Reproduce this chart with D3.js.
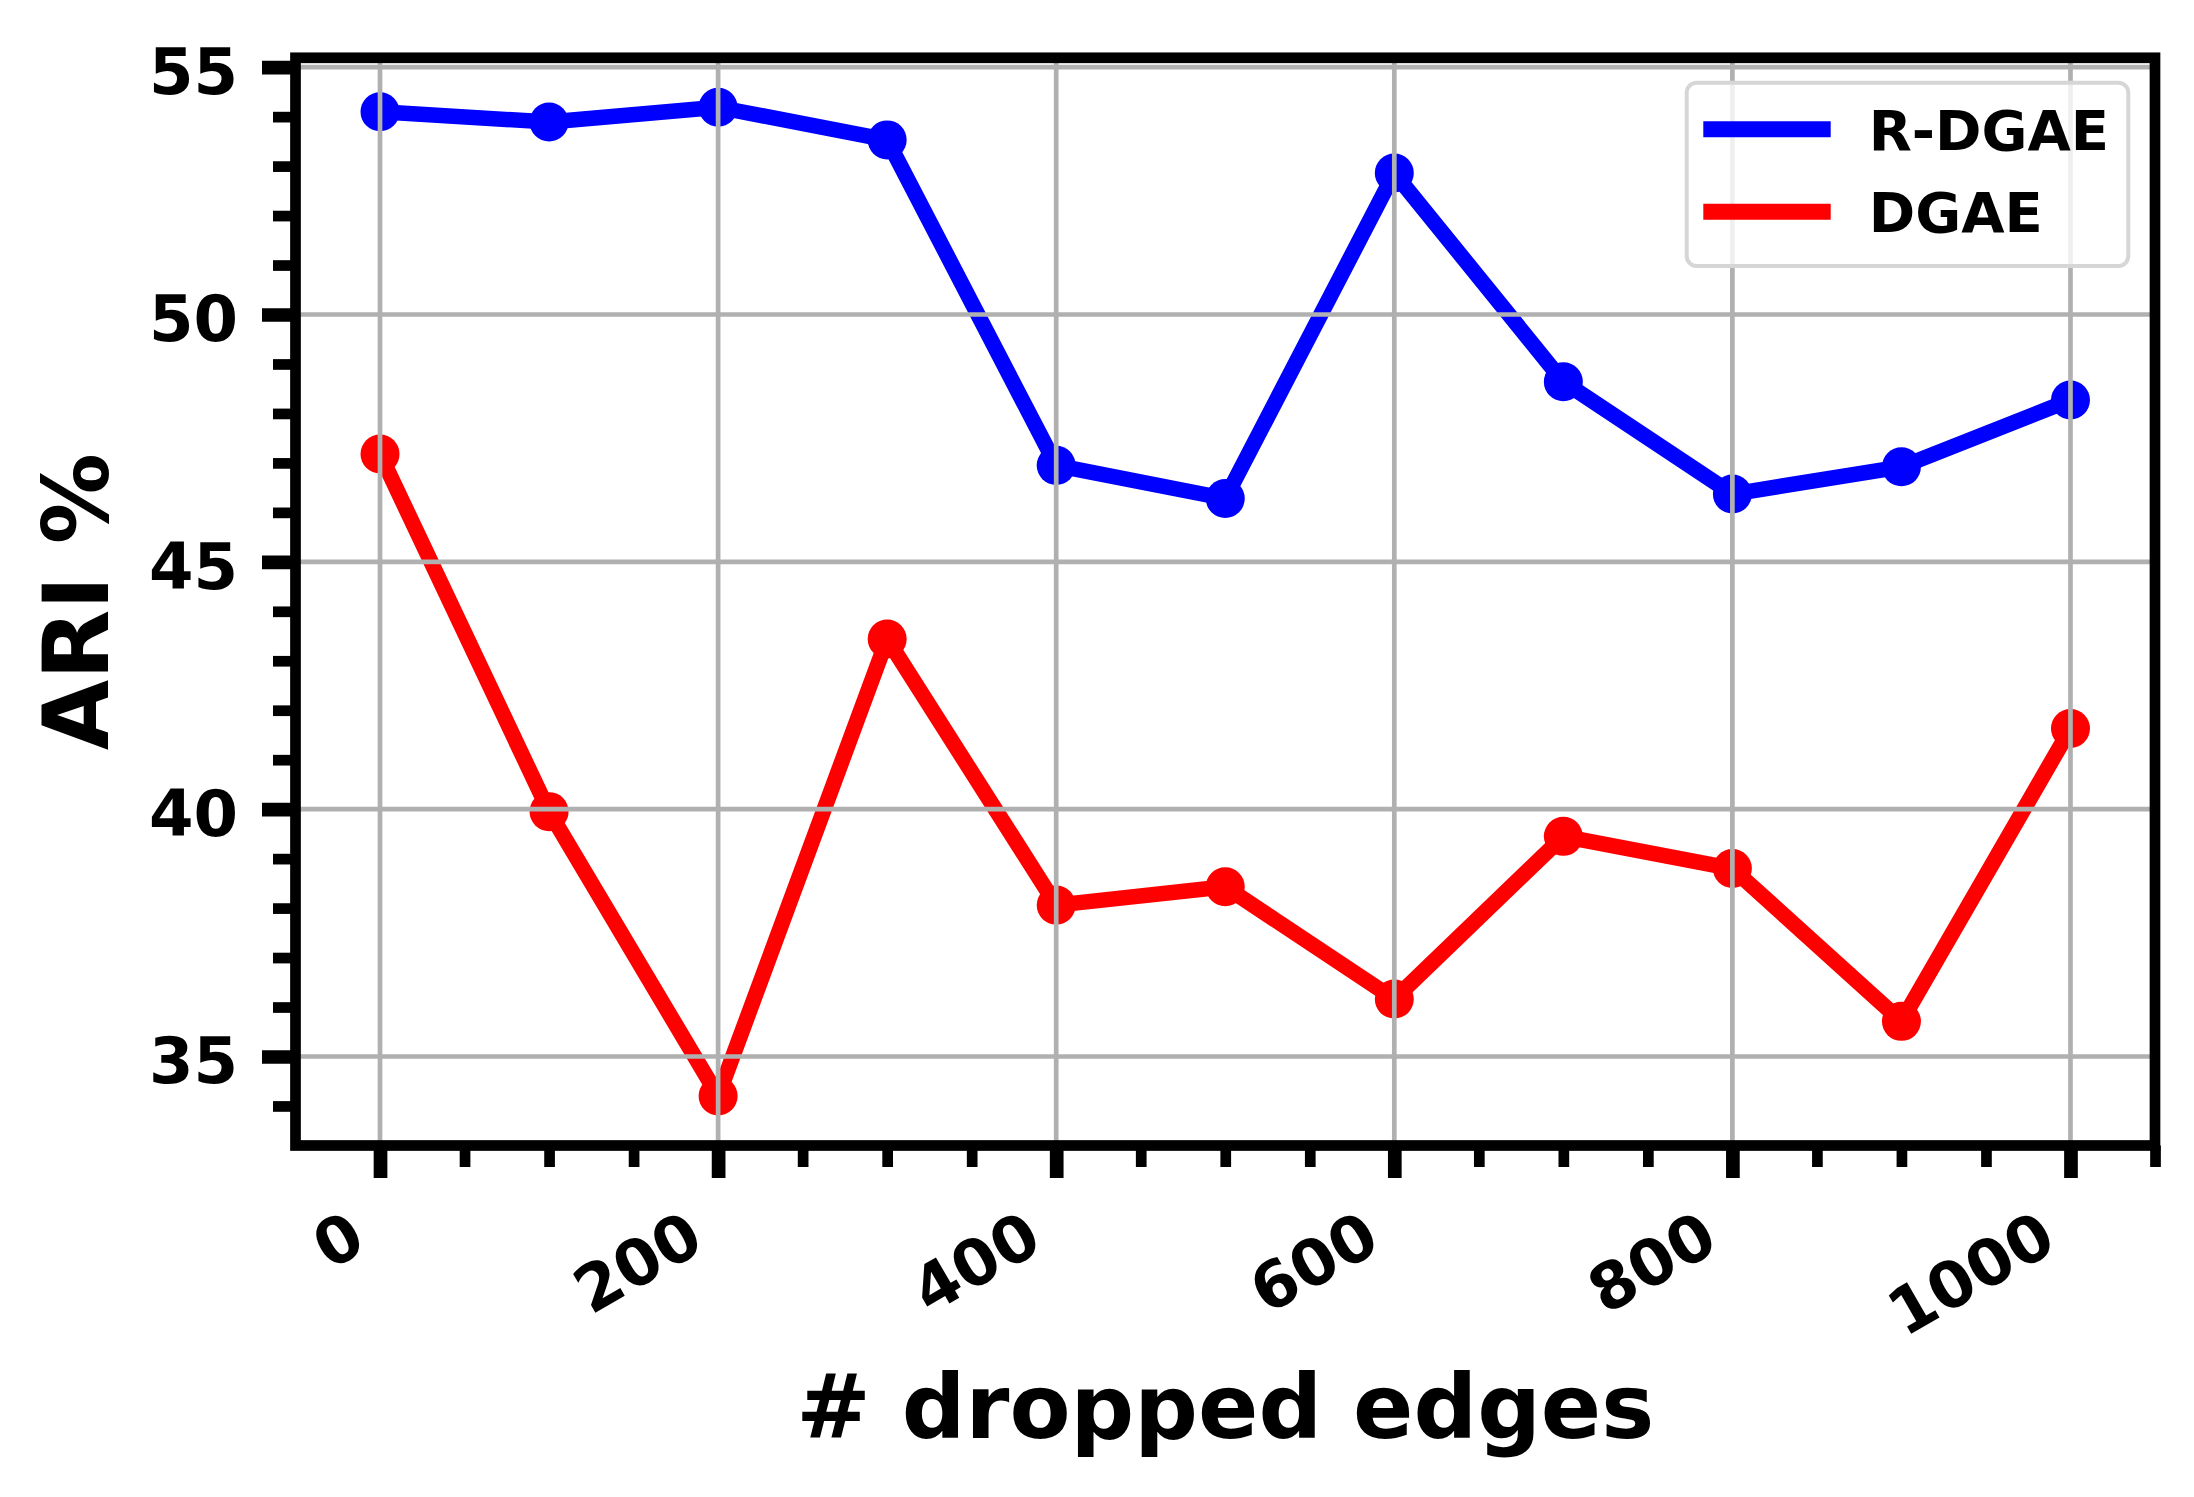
<!DOCTYPE html>
<html>
<head>
<meta charset="utf-8">
<script src="https://cdn.jsdelivr.net/npm/d3@7"></script>
<style>
  body { margin: 0; background: #fff; }
  text { font-family: "DejaVu Sans", sans-serif; font-weight: bold; }
</style>
</head>
<body>
<script>
// data
const edges  = [0, 100, 200, 300, 400, 500, 600, 700, 800, 900, 1000];
const rdgae  = [54.10, 53.89, 54.19, 53.53, 46.95, 46.28, 52.86, 48.64, 46.37, 46.92, 48.27];
const dgae   = [47.18, 39.95, 34.20, 43.44, 38.06, 38.43, 36.16, 39.45, 38.80, 35.71, 41.63];
const seriesNames  = ["R-DGAE", "DGAE"];
const seriesColors = ["#0000ff", "#ff0000"];
const xTicks = [0, 200, 400, 600, 800, 1000];
const yTicks = [35, 40, 45, 50, 55];
const xLabel = "# dropped edges";
const yLabel = "ARI %";

let size = {width: 2194, height: 1497};
let box = {left: 295.5, right: 2155, top: 57.8, bottom: 1145.5};

let svg = d3.select("body").append("svg")
    .attr("width", size.width).attr("height", size.height);

// matplotlib style 5% margins
function padded(ext) {
    let m = (ext[1] - ext[0]) * 0.05;
    return [ext[0] - m, ext[1] + m];
}
let x = d3.scaleLinear().domain(padded(d3.extent(edges))).range([box.left, box.right]);
let y = d3.scaleLinear().domain(padded(d3.extent(rdgae.concat(dgae)))).range([box.bottom, box.top]);

let xMinor = d3.range(50, 1051, 50).filter(v => !xTicks.includes(v));
let yMinor = d3.range(34, 56, 1).filter(v => !yTicks.includes(v) && v < y.domain()[1]);

// series
let series = [rdgae, dgae];
let line = d3.line().x((d, i) => x(edges[i])).y(d => y(d));
let plotG = svg.append("g");
series.forEach((vals, k) => {
    plotG.append("path")
        .datum(vals)
        .attr("d", line)
        .attr("fill", "none")
        .attr("stroke", seriesColors[k])
        .attr("stroke-width", 15.5)
        .attr("stroke-linejoin", "round");
    plotG.selectAll(null).data(vals).enter().append("circle")
        .attr("cx", (d, i) => x(edges[i]))
        .attr("cy", d => y(d))
        .attr("r", 19.5)
        .attr("fill", seriesColors[k]);
});

// grid sits above the lines
let grid = svg.append("g").attr("stroke", "#b0b0b0").attr("stroke-width", 4.7);
grid.selectAll(null).data(xTicks).enter().append("line")
    .attr("x1", d => x(d)).attr("x2", d => x(d))
    .attr("y1", box.top).attr("y2", box.bottom);
grid.selectAll(null).data(yTicks).enter().append("line")
    .attr("y1", d => y(d)).attr("y2", d => y(d))
    .attr("x1", box.left).attr("x2", box.right);

// legend
let leg = svg.append("g").attr("transform", "translate(1686.7,82.7)");
leg.append("rect")
    .attr("width", 441.6).attr("height", 183.3).attr("rx", 10)
    .attr("fill", "#fff").attr("fill-opacity", 0.8)
    .attr("stroke", "#d6d6d6").attr("stroke-width", 4);
seriesNames.forEach((name, k) => {
    let cy = 46.6 + k * 82.4;
    leg.append("line")
        .attr("x1", 16.6).attr("x2", 144)
        .attr("y1", cy).attr("y2", cy)
        .attr("stroke", seriesColors[k]).attr("stroke-width", 16);
    leg.append("text")
        .attr("x", 182).attr("y", cy + 20.5)
        .attr("font-size", 56)
        .text(name);
});

// spines
svg.append("rect")
    .attr("x", box.left).attr("y", box.top)
    .attr("width", box.right - box.left).attr("height", box.bottom - box.top)
    .attr("fill", "none").attr("stroke", "#000").attr("stroke-width", 10.7);

// axes
let xAxis = svg.append("g").attr("transform", `translate(0,${box.bottom})`)
    .call(d3.axisBottom(x).tickValues(xTicks).tickFormat(d3.format("d")).tickSize(32.5).tickSizeOuter(0));
let xAxisMinor = svg.append("g").attr("transform", `translate(0,${box.bottom})`)
    .call(d3.axisBottom(x).tickValues(xMinor).tickSize(21.5).tickSizeOuter(0).tickFormat(""));
let yAxis = svg.append("g").attr("transform", `translate(${box.left},0)`)
    .call(d3.axisLeft(y).tickValues(yTicks).tickSize(33.5).tickPadding(24).tickSizeOuter(0));
let yAxisMinor = svg.append("g").attr("transform", `translate(${box.left},0)`)
    .call(d3.axisLeft(y).tickValues(yMinor).tickSize(22.5).tickSizeOuter(0).tickFormat(""));

[xAxis, xAxisMinor, yAxis, yAxisMinor].forEach(g => g.select(".domain").remove());
xAxis.selectAll(".tick line").attr("stroke", "#000").attr("stroke-width", 13.7);
yAxis.selectAll(".tick line").attr("stroke", "#000").attr("stroke-width", 13.7);
xAxisMinor.selectAll(".tick line").attr("stroke", "#000").attr("stroke-width", 10.7);
yAxisMinor.selectAll(".tick line").attr("stroke", "#000").attr("stroke-width", 10.7);

yAxis.selectAll(".tick text")
    .attr("font-family", "DejaVu Sans").attr("font-weight", "bold")
    .attr("font-size", 64).attr("fill", "#000")
    .attr("dy", "0.41em");
xAxis.selectAll(".tick text")
    .attr("font-family", "DejaVu Sans").attr("font-weight", "bold")
    .attr("font-size", 64).attr("fill", "#000")
    .attr("text-anchor", "end")
    .attr("x", 0).attr("y", 0).attr("dy", 0)
    .attr("transform", "translate(-12,103) rotate(-30)");

// axis titles
svg.append("text")
    .attr("x", (box.left + box.right) / 2).attr("y", 1438.3)
    .attr("text-anchor", "middle").attr("font-size", 89)
    .text(xLabel);
svg.append("text")
    .attr("transform", `translate(108.3,${(box.top + box.bottom) / 2}) rotate(-90)`)
    .attr("text-anchor", "middle").attr("font-size", 91)
    .text(yLabel);
</script>
</body>
</html>
